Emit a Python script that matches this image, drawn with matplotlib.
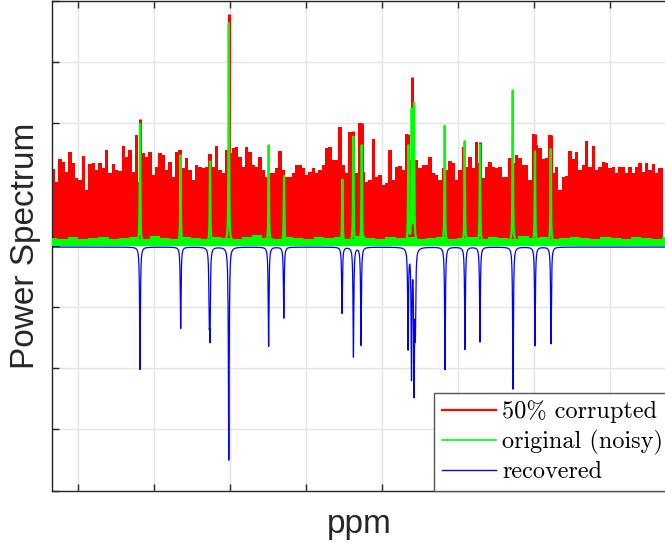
import numpy as np
import matplotlib
matplotlib.use("Agg")
import matplotlib.pyplot as plt
from matplotlib.lines import Line2D

# ---------------- data (ppm axis in arbitrary units, one grid step = 1) ----------------
# envelope of the 50% corrupted spectrum, sampled uniformly from red_start to red_stop
red_start, red_stop = -0.3246, 7.7018
red_top = [
    1.25, 1.04, 1.42, 1.37, 1.20, 1.53, 1.35, 1.11, 1.07, 1.47, 0.91, 1.34, 1.35, 1.24, 1.35,
    1.27, 1.57, 1.19, 1.34, 1.24, 1.22, 1.63, 1.45, 1.57, 1.20, 1.81, 1.04, 1.52, 1.45, 1.53,
    1.16, 1.29, 1.52, 1.48, 1.24, 1.37, 1.12, 1.53, 1.57, 1.27, 1.43, 1.24, 1.07, 1.32, 1.29,
    1.27, 1.29, 1.50, 1.29, 1.63, 1.24, 1.19, 1.57, 1.52, 1.60, 1.61, 1.45, 1.29, 1.61, 1.53,
    1.32, 1.29, 1.45, 1.24, 1.12, 1.19, 1.19, 1.27, 1.55, 1.24, 1.12, 1.12, 1.19, 1.32, 1.32,
    1.27, 1.16, 1.20, 1.27, 1.19, 1.24, 1.32, 1.60, 1.61, 1.40, 1.40,
    1.94, 1.32, 1.19, 1.86, 1.24, 1.19, 2.01, 1.20, 1.04, 1.07, 1.75, 1.12, 1.16, 0.99, 1.02,
    1.57, 1.07, 1.29, 1.30, 1.24, 1.83, 1.40, 1.57, 1.40, 1.27, 1.32, 1.32, 1.45, 1.19, 1.16,
    1.07, 1.27, 1.24, 1.39, 1.35, 1.07, 1.24, 1.61, 1.29, 1.45, 1.27, 1.70, 1.35, 1.11, 1.29,
    1.37, 1.29, 1.27, 1.29, 1.12, 1.12, 1.43, 1.35, 1.48, 1.43, 1.32, 1.32, 1.07, 1.83, 1.65,
    1.60, 1.42, 1.43, 1.81, 1.19, 1.29, 0.91, 1.12, 1.14, 1.55, 1.42, 1.53, 1.24, 1.32, 1.71,
    1.29, 1.63, 1.24, 1.29, 1.37, 1.35, 1.27, 1.29, 1.19, 1.29, 1.29, 1.19, 1.29, 1.19, 1.29,
    1.35, 1.20, 1.35, 1.24, 1.34, 1.19, 1.27, 1.27,
]
red_peak_pos = [0.816, 1.984, 3.622, 3.733, 4.346, 4.391, 5.289, 6.013, 6.224]
red_peak_height = [2.07, 3.78, 1.87, 2.00, 1.83, 2.76, 1.70, 1.82, 1.81]

# original (noisy) spectrum: peaks and noise floor
green_peak_pos = [0.816, 1.349, 1.737, 1.984, 2.509, 2.711, 3.478, 3.622, 3.733,
                  4.346, 4.391, 4.421, 4.825, 5.088, 5.289, 5.720, 6.013, 6.220]
green_peak_height = [1.92, 1.41, 1.31, 3.57, 1.57, 1.07, 1.01, 1.71, 1.57,
                     1.55, 2.12, 2.23, 1.89, 1.64, 1.58, 2.47, 1.47, 1.51]
green_floor = [
    0.13, 0.12, 0.14, 0.12, 0.13, 0.15, 0.12, 0.13, 0.14, 0.12, 0.16, 0.13, 0.12, 0.14, 0.13,
    0.12, 0.15, 0.13, 0.12, 0.14, 0.17, 0.13, 0.12, 0.14, 0.13, 0.12, 0.15, 0.13, 0.14, 0.12,
    0.16, 0.13, 0.12, 0.14, 0.13, 0.15, 0.12, 0.13, 0.14, 0.12, 0.13, 0.15, 0.12, 0.14, 0.13,
    0.12, 0.16, 0.13, 0.14, 0.12, 0.13, 0.15, 0.13, 0.12, 0.14, 0.13, 0.12, 0.15, 0.13, 0.12,
    0.14,
]

# recovered spectrum (plotted downward)
blue_peak_pos = [0.816, 1.351, 1.727, 1.737, 1.984, 2.508, 2.708, 3.474, 3.624, 3.724,
                 4.343, 4.388, 4.422, 4.439, 4.829, 5.092, 5.289, 5.724, 6.013, 6.224]
blue_peak_depth = [2.00, 1.33, 0.98, 1.29, 3.48, 1.62, 1.16, 1.08, 1.79, 1.60,
                   1.63, 2.07, 2.25, 1.27, 2.00, 1.67, 1.55, 2.32, 1.61, 1.58]
blue_width_ppm = 0.006
green_width_ppm = 0.004

labels = ["50% corrupted", "original (noisy)", "recovered"]
colors = ["#ff0000", "#00ff00", "#0000ff"]

# ---------------- figure ----------------
W, H = 665, 544
fig = plt.figure(figsize=(W / 100, H / 100), dpi=100)
ax = fig.add_axes([52.3 / W, 53.3 / H, 614.7 / W, 489.7 / H])

xlo, xhi = -0.338, 7.75
ax.set_xlim(xlo, xhi)
ax.set_ylim(-4, 4)
ax.set_xticks(np.arange(0, 8))
ax.set_yticks(np.arange(-4, 5))
ax.grid(True, color="#e4e4e4", lw=1.0)
ax.set_axisbelow(True)

def lorentz(x, pos, amp, g):
    y = np.zeros_like(x)
    for p, a in zip(pos, amp):
        y += a * g * g / ((x - p) ** 2 + g * g)
    return y

# red (corrupted)
rx = np.linspace(red_start, red_stop, len(red_top))
ax.fill_between(rx, 0.03, red_top, step="mid", color=colors[0], lw=0, zorder=2)
ax.vlines(red_peak_pos, 0.03, red_peak_height, color=colors[0], lw=2.2, zorder=2)

# green (original)
gx = np.linspace(xlo, xhi, len(green_floor))
ax.fill_between(gx, -0.005, green_floor, step="mid", color=colors[1], lw=0, zorder=3)
xf = np.linspace(xlo, xhi, 40000)
ax.plot(xf, 0.07 + lorentz(xf, green_peak_pos, green_peak_height, green_width_ppm),
        color=colors[1], lw=1.6, zorder=4)

# blue (recovered)
ax.plot(xf, -0.02 - lorentz(xf, blue_peak_pos, blue_peak_depth, blue_width_ppm),
        color=colors[2], lw=0.9, zorder=5)

for s in ["top", "bottom", "left"]:
    ax.spines[s].set_color("#262626")
    ax.spines[s].set_linewidth(1.0)
ax.spines["right"].set_visible(False)
ax.tick_params(direction="in", length=5, width=1, color="#262626",
               top=True, right=False, labelbottom=False, labelleft=False)

ax.set_xlabel("ppm", fontsize=24, family="Liberation Sans", color="#262626", labelpad=13)
ax.set_ylabel("Power Spectrum", fontsize=24, family="Liberation Sans", color="#262626", labelpad=8)

handles = [Line2D([], [], color=colors[0], lw=1.6),
           Line2D([], [], color=colors[1], lw=1.2),
           Line2D([], [], color=colors[2], lw=1.0)]
leg = fig.legend(handles, labels, loc="lower left",
                 bbox_to_anchor=(434.3 / W, (H - 490.5) / H),
                 prop={"family": "cmr10", "size": 17.5},
                 handlelength=2.25, handletextpad=0.25, borderpad=0.3,
                 labelspacing=0.26, borderaxespad=0, fancybox=False, framealpha=1)
leg.get_frame().set_edgecolor("#555555")
leg.get_frame().set_linewidth(1.0)

fig.savefig("out.png", dpi=100)
